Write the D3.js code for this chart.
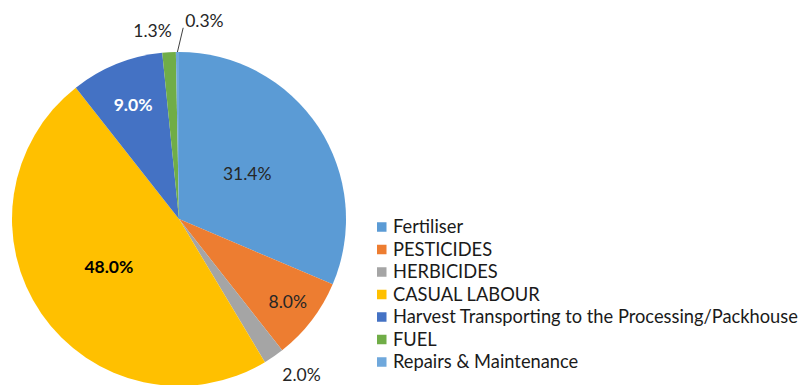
<!DOCTYPE html>
<html>
<head>
<meta charset="utf-8">
<script src="https://cdn.jsdelivr.net/npm/d3@7"></script>
<style>
  html, body { margin: 0; padding: 0; background: #fff; }
  svg { display: block; }
  text { font-family: Lato, "Open Sans", sans-serif; }
</style>
</head>
<body>
<svg id="chart" width="800" height="385"></svg>
<script>
// Cost categories and their share of total cost (%)
const categories = [
  "Fertiliser",
  "PESTICIDES",
  "HERBICIDES",
  "CASUAL LABOUR",
  "Harvest Transporting to the Processing/Packhouse",
  "FUEL",
  "Repairs & Maintenance"
];
const shares = [31.4, 8.0, 2.0, 48.0, 9.0, 1.3, 0.3];
const colors = ["#5B9BD5", "#ED7D31", "#A5A5A5", "#FFC000", "#4472C4", "#70AD47", "#6FA8DC"];

// Label styling per slice: radial position (fraction of radius), colour, weight
const labelRadius = [0.49, 0.82, 1.133, 0.51, 0.735, 1.13, 1.0];
const labelColor  = ["#262626", "#262626", "#262626", "#000000", "#ffffff", "#262626", "#262626"];
const labelWeight = ["normal", "normal", "normal", "bold", "bold", "normal", "normal"];

const data = categories.map((c, i) => ({ name: c, value: shares[i], i }));

const svg = d3.select("#chart");
const cx = 179, cy = 219, r = 167;

const pie = d3.pie().sort(null).value(d => d.value);
const arc = d3.arc().innerRadius(0).outerRadius(r);
const arcs = pie(data);

const g = svg.append("g").attr("transform", `translate(${cx},${cy})`);

g.selectAll("path.slice")
  .data(arcs)
  .join("path")
  .attr("class", "slice")
  .attr("d", arc)
  .attr("fill", d => colors[d.data.i]);

const fmt = v => v.toFixed(1) + "%";
const mid = d => (d.startAngle + d.endAngle) / 2;
const polar = (a, rad) => [Math.sin(a) * rad, -Math.cos(a) * rad];

arcs.forEach(d => {
  const i = d.data.i;
  const a = mid(d);
  if (i === 6) {
    // tiny slice: leader line from the rim to the label
    const p0 = polar(a, r * 1.0);
    const p1 = polar(a, r * 1.145);
    p1[0] += 6;
    g.append("line")
      .attr("x1", p0[0]).attr("y1", p0[1])
      .attr("x2", p1[0]).attr("y2", p1[1])
      .attr("stroke", "#404040").attr("stroke-width", 1);
    g.append("text")
      .attr("x", p1[0] + 2).attr("y", p1[1] - 1)
      .attr("text-anchor", "start")
      .attr("font-size", 17.5)
      .attr("fill", labelColor[i])
      .text(fmt(d.data.value));
    return;
  }
  const p = polar(a, r * labelRadius[i]);
  let anchor = "middle", x = p[0];
  if (i === 5) { anchor = "end"; x = p[0] + 4; }
  if (i === 2) { anchor = "start"; x = p[0] - 4; }
  g.append("text")
    .attr("x", x)
    .attr("y", p[1])
    .attr("dy", "0.35em")
    .attr("text-anchor", anchor)
    .attr("font-size", 17.5)
    .attr("font-weight", labelWeight[i])
    .attr("fill", labelColor[i])
    .text(fmt(d.data.value));
});

// Legend
const legend = svg.append("g").attr("transform", "translate(377,227)");
const rowH = 22.5;
const rows = legend.selectAll("g.row")
  .data(data)
  .join("g")
  .attr("class", "row")
  .attr("transform", d => `translate(0,${d.i * rowH})`);
rows.append("rect")
  .attr("x", 0).attr("y", -4.75)
  .attr("width", 9.5).attr("height", 9.5)
  .attr("fill", d => colors[d.i]);
rows.append("text")
  .attr("x", 16).attr("y", 0)
  .attr("dy", "0.35em")
  .attr("font-size", 18.3)
  .attr("fill", "#1a1a1a")
  .text(d => d.name);
</script>
</body>
</html>
